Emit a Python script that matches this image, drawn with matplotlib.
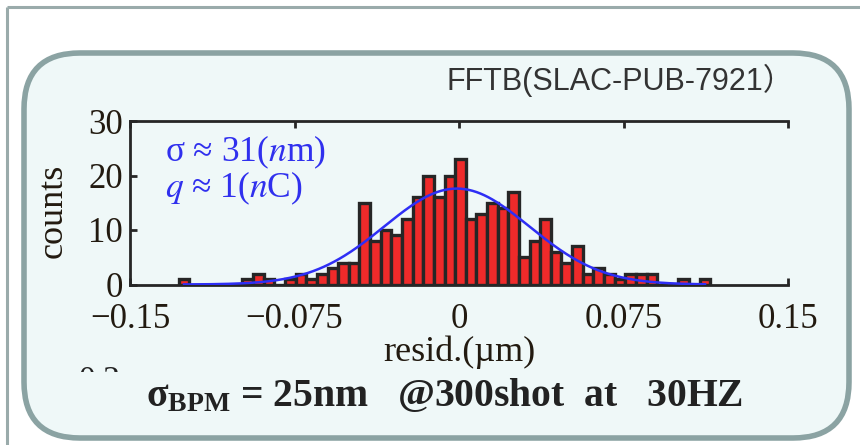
import numpy as np
import matplotlib
matplotlib.use('Agg')
import matplotlib.pyplot as plt
from matplotlib.patches import FancyBboxPatch, Rectangle

# ---- data ----
counts = [1, 0, 0, 0, 0, 0, 1, 2, 1, 0, 1, 2, 1, 2, 3, 4, 4, 15, 8, 10,
          9, 12, 16, 20, 16, 20, 23, 12, 13, 15, 14, 17, 5, 8, 12, 6, 4, 7, 2, 3,
          2, 1, 2, 2, 2, 0, 0, 1, 0, 1]
resid_min = -0.1278
resid_max = 0.1146
fit_mu = -0.001
fit_sigma = 0.033
fit_peak = 17.6
xticks = [-0.15, -0.075, 0, 0.075, 0.15]
xticklabels = ['\u22120.15', '\u22120.075', '0', '0.075', '0.15']
yticks = [0, 10, 20, 30]
yticklabels = ['0', '10', '20', '30']

plt.rcParams['mathtext.fontset'] = 'stix'
SERIF = ['Liberation Serif', 'DejaVu Serif']

W, H = 860, 445
fig = plt.figure(figsize=(W / 100, H / 100), dpi=100)
fig.patch.set_facecolor('white')

# background axes in pixel coordinates
bg = fig.add_axes([0, 0, 1, 1], zorder=0)
bg.set_xlim(0, W)
bg.set_ylim(H, 0)
bg.axis('off')

BG = '#eff8f8'
BORDER = '#8ba3a3'
# outer frame lines
bg.plot([7, 7], [7, H], color='#9aabab', lw=2.2, solid_capstyle='butt')
bg.plot([7, W], [7, 7], color='#9aabab', lw=2.2, solid_capstyle='butt')
box = FancyBboxPatch((24, 53), 825, 385,
                     boxstyle='round,pad=0,rounding_size=56',
                     facecolor=BG, edgecolor=BORDER, lw=4.0)
bg.add_patch(box)

# partially hidden label of an underlying plot
bg.text(100, 381, '0.2', fontsize=24, family=SERIF, color='#222222',
        ha='center', va='center', zorder=2)
bg.add_patch(Rectangle((60, 372), 720, 60, facecolor=BG, edgecolor='none', zorder=3))

bg.text(620, 80, 'FFTB(SLAC-PUB-7921\uff09', fontsize=22,
        family=['Liberation Sans', 'Noto Sans CJK SC'], color='#333333',
        ha='center', va='center', zorder=4)

bg.text(445, 396, r'$\mathregular{σ_{BPM}}$ = 25nm   @300shot  at   30HZ',
        fontsize=28.5, family=SERIF, fontweight='bold', color='#222222',
        ha='center', va='center', zorder=4)

# ---- histogram axes ----
ax = fig.add_axes([130 / W, 1 - 284.5 / H, 658 / W, 163.5 / H], zorder=1)
ax.patch.set_alpha(0)

edges = np.linspace(resid_min, resid_max, len(counts) + 1)
centers = 0.5 * (edges[:-1] + edges[1:])
width = edges[1] - edges[0]
ax.bar(centers, counts, width=width, color='#ef2a2a', edgecolor='#262626',
       linewidth=2.4, align='center', zorder=2)

xf = np.linspace(centers[0], centers[-1], 400)
yf = fit_peak * np.exp(-0.5 * ((xf - fit_mu) / fit_sigma) ** 2)
ax.plot(xf, yf, color='#2e2ef5', lw=1.8, zorder=3)

ax.set_xlim(-0.15, 0.15)
ax.set_ylim(0, 30)
ax.set_xticks(xticks)
ax.set_xticklabels(xticklabels)
ax.set_yticks(yticks)
ax.set_yticklabels(yticklabels)
for s in ax.spines.values():
    s.set_color('#262626')
    s.set_linewidth(2.0)
ax.spines['right'].set_visible(False)
ax.tick_params(direction='in', length=5, width=2, color='#262626',
               top=True, right=False, labelsize=25, labelcolor='#221a10')
ax.tick_params(axis='x', pad=13)
ax.tick_params(axis='y', pad=5)
for lab in ax.get_xticklabels() + ax.get_yticklabels():
    lab.set_family(SERIF)

ax.set_xlabel('resid.(\u00b5m)', fontsize=26, family=SERIF, color='#221a10')
ax.xaxis.set_label_coords(0.5, -0.31)
ax.set_ylabel('counts', fontsize=26, family=SERIF, color='#221a10')
ax.yaxis.set_label_coords(-0.091, 0.45)

ax.text(0.053, 0.81, 'σ ≈ 31($n$m)', transform=ax.transAxes, fontsize=25.5,
        family=SERIF, color='#3030ee', va='center', ha='left', zorder=5)
ax.text(0.053, 0.59, '$q$ ≈ 1($n$C)', transform=ax.transAxes, fontsize=25.5,
        family=SERIF, color='#3030ee', va='center', ha='left', zorder=5)

fig.savefig('out.png', dpi=100, facecolor='white')
